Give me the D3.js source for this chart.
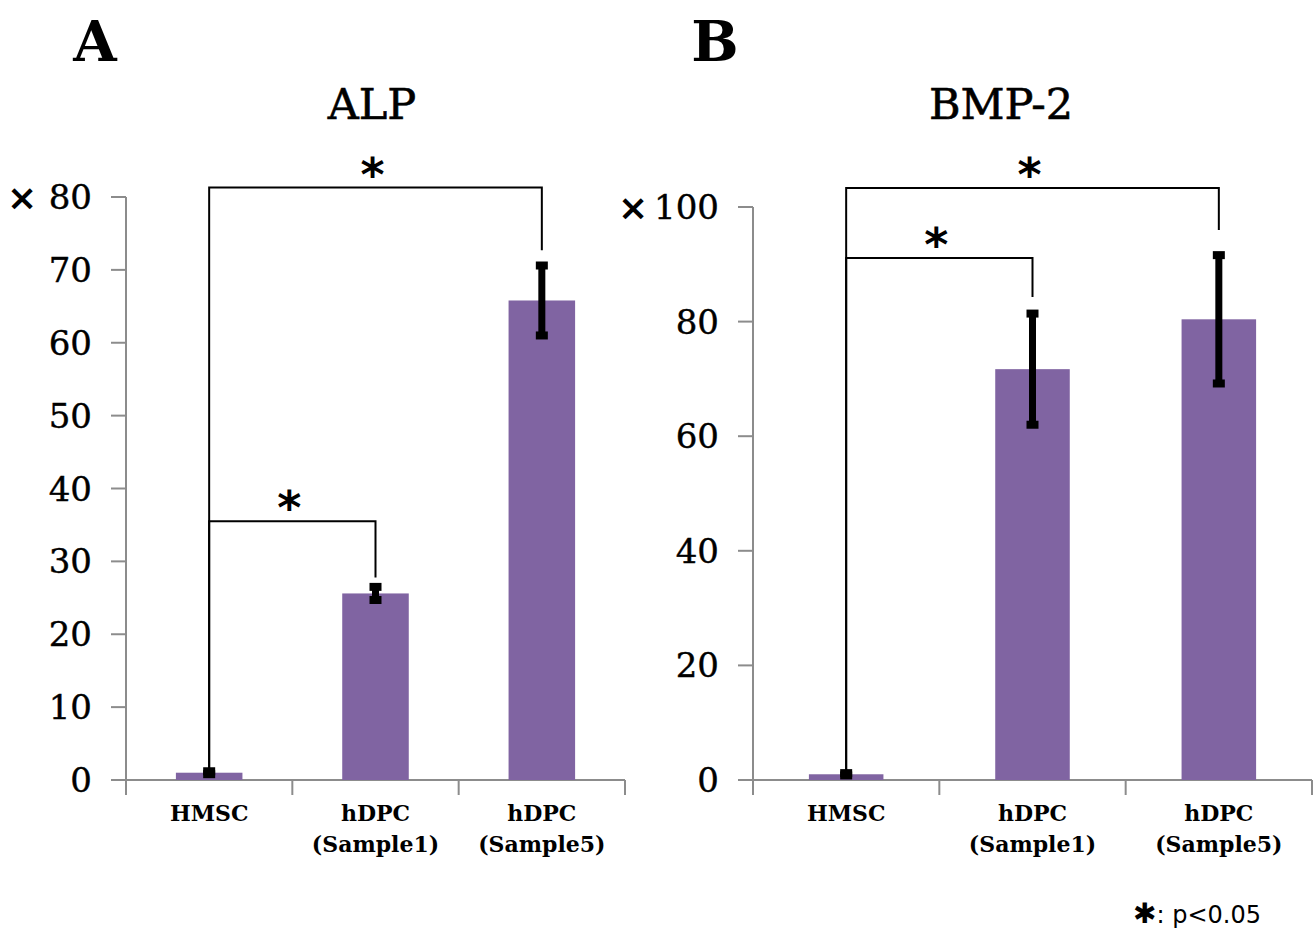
<!DOCTYPE html>
<html>
<head>
<meta charset="utf-8">
<script src="https://cdn.jsdelivr.net/npm/d3@7"></script>
<style>
  body { margin: 0; background: #fff; }
</style>
</head>
<body>
<svg id="chart" width="1313" height="931"></svg>
<script>
var categories = ["HMSC", "hDPC|(Sample1)", "hDPC|(Sample5)"];

var alpValues = [1.0, 25.6, 65.8];
var alpErrors = [0.2, 0.9, 4.8];
var alpTicks = [0, 10, 20, 30, 40, 50, 60, 70, 80];
// brackets: [from index, to index, bracket height, end of right leg]
var alpBrackets = [[0, 2, 81.3, 72.7], [0, 1, 35.5, 27.8]];

var bmpValues = [1.0, 71.7, 80.4];
var bmpErrors = [0.2, 9.7, 11.2];
var bmpTicks = [0, 20, 40, 60, 80, 100];
var bmpBrackets = [[0, 2, 103.3, 96.0], [0, 1, 91.1, 84.3]];

var svg = d3.select("#chart");
var barColor = "#8064a2",
    axisColor = "#8c8c8c",
    serif = "'DejaVu Serif', serif";

function drawPanel(opt) {
  var g = svg.append("g");

  var x = d3.scaleBand()
      .domain(categories)
      .range([opt.left, opt.right])
      .paddingInner(0.6)
      .paddingOuter(0.3);

  var y = d3.scaleLinear()
      .domain([0, opt.max])
      .range([780, opt.top]);

  // axes lines
  g.append("line")
      .attr("x1", opt.left).attr("x2", opt.left)
      .attr("y1", y(opt.max)).attr("y2", y(0))
      .attr("stroke", axisColor).attr("stroke-width", 2);
  g.append("line")
      .attr("x1", opt.left - 15).attr("x2", opt.right)
      .attr("y1", y(0)).attr("y2", y(0))
      .attr("stroke", axisColor).attr("stroke-width", 2);

  g.selectAll(".ytick")
      .data(opt.ticks)
      .enter().append("line")
      .attr("x1", opt.left - 15).attr("x2", opt.left)
      .attr("y1", function(d) { return y(d); })
      .attr("y2", function(d) { return y(d); })
      .attr("stroke", axisColor).attr("stroke-width", 2);

  g.selectAll(".ylabel")
      .data(opt.ticks)
      .enter().append("text")
      .attr("x", opt.left - 34)
      .attr("y", function(d) { return y(d) + 12; })
      .attr("text-anchor", "end")
      .attr("font-family", serif)
      .attr("font-size", 34)
      .attr("stroke", "#000")
      .attr("stroke-width", 0.4)
      .text(function(d) { return d; });

  // multiplier mark next to the top tick
  g.append("text")
      .attr("x", opt.left - opt.timesOffset)
      .attr("y", y(opt.max) + 13)
      .attr("text-anchor", "middle")
      .attr("font-family", "'DejaVu Sans', sans-serif")
      .attr("font-weight", "bold")
      .attr("font-size", 36)
      .text("×");

  // category boundary ticks
  var bounds = categories.map(function(c) { return x(c) + x.bandwidth() / 2 - x.step() / 2; });
  bounds.push(opt.right);
  g.selectAll(".xtick")
      .data(bounds)
      .enter().append("line")
      .attr("x1", function(d) { return d; }).attr("x2", function(d) { return d; })
      .attr("y1", y(0)).attr("y2", y(0) + 15)
      .attr("stroke", axisColor).attr("stroke-width", 2);

  // category labels
  categories.forEach(function(c) {
    var lines = c.split("|");
    var t = g.append("text")
        .attr("text-anchor", "middle")
        .attr("font-family", serif)
        .attr("font-weight", "bold")
        .attr("font-size", 22);
    lines.forEach(function(l, i) {
      t.append("tspan")
          .attr("x", x(c) + x.bandwidth() / 2)
          .attr("y", 821 + i * 31)
          .text(l);
    });
  });

  // bars
  g.selectAll(".bar")
      .data(opt.values)
      .enter().append("rect")
      .attr("x", function(d, i) { return x(categories[i]); })
      .attr("y", function(d) { return y(d); })
      .attr("width", x.bandwidth())
      .attr("height", function(d) { return y(0) - y(d); })
      .attr("fill", barColor);

  // error bars
  opt.values.forEach(function(v, i) {
    var cx = x(categories[i]) + x.bandwidth() / 2;
    var e = opt.errors[i];
    g.append("line")
        .attr("x1", cx).attr("x2", cx)
        .attr("y1", y(v + e)).attr("y2", y(v - e))
        .attr("stroke", "#000").attr("stroke-width", 7);
    [v + e, v - e].forEach(function(p) {
      g.append("rect")
          .attr("x", cx - 6).attr("y", y(p) - 4)
          .attr("width", 12).attr("height", 8)
          .attr("fill", "#000");
    });
  });

  // significance brackets
  opt.brackets.forEach(function(b) {
    var x0 = x(categories[b[0]]) + x.bandwidth() / 2,
        x1 = x(categories[b[1]]) + x.bandwidth() / 2;
    g.append("path")
        .attr("d", "M" + x0 + "," + y(opt.values[b[0]]) +
                   "V" + y(b[2]) + "H" + x1 + "V" + y(b[3]))
        .attr("fill", "none")
        .attr("stroke", "#000")
        .attr("stroke-width", 2);
    g.append("text")
        .attr("x", (x0 + x1) / 2 - 3)
        .attr("y", y(b[2]) + 3)
        .attr("text-anchor", "middle")
        .attr("font-family", "'DejaVu Sans', sans-serif")
        .attr("font-weight", "bold")
        .attr("font-size", 46)
        .text("*");
  });

  // titles
  svg.append("text")
      .attr("x", opt.letterX).attr("y", 61)
      .attr("text-anchor", "middle")
      .attr("font-family", serif)
      .attr("font-weight", "bold")
      .attr("font-size", 56)
      .text(opt.letter);
  svg.append("text")
      .attr("x", opt.titleX).attr("y", 119)
      .attr("text-anchor", "middle")
      .attr("font-family", serif)
      .attr("font-size", 43)
      .attr("stroke", "#000")
      .attr("stroke-width", 0.6)
      .text(opt.title);
}

drawPanel({
  left: 126, right: 625, top: 197, max: 80,
  values: alpValues, errors: alpErrors, ticks: alpTicks, brackets: alpBrackets,
  timesOffset: 104, letter: "A", letterX: 95, title: "ALP", titleX: 372
});

drawPanel({
  left: 753, right: 1312, top: 207, max: 100,
  values: bmpValues, errors: bmpErrors, ticks: bmpTicks, brackets: bmpBrackets,
  timesOffset: 120, letter: "B", letterX: 715, title: "BMP-2", titleX: 1001
});

// legend
var legend = svg.append("text")
    .attr("x", 1133).attr("y", 923)
    .attr("font-family", "'DejaVu Sans', sans-serif")
    .attr("font-size", 24);
legend.append("tspan").attr("font-size", 28).text("✱");
legend.append("tspan").text(": p<0.05");
</script>
</body>
</html>
